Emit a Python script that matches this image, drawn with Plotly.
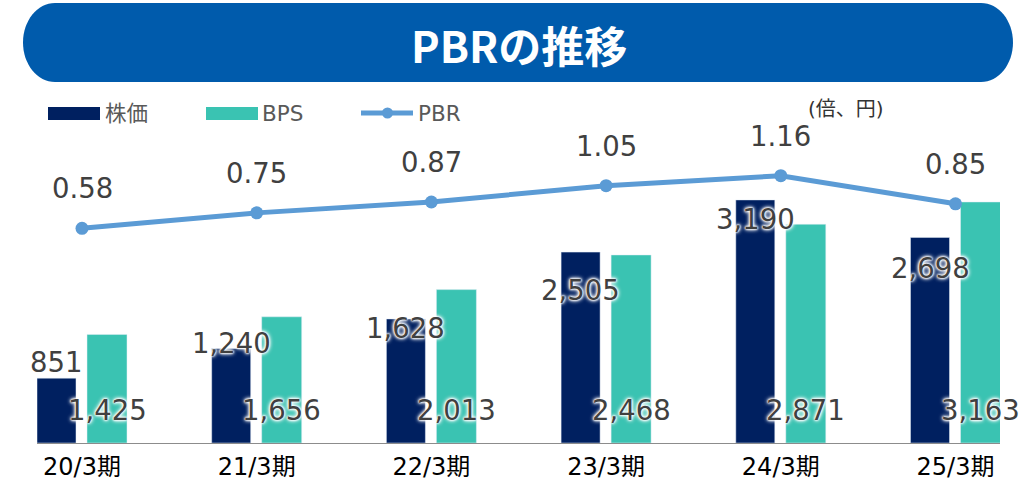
import plotly.graph_objects as go

# ---------------- data ----------------
categories = ["20/3期", "21/3期", "22/3期", "23/3期", "24/3期", "25/3期"]
stock_price = [851, 1240, 1628, 2505, 3190, 2698]
bps = [1425, 1656, 2013, 2468, 2871, 3163]
pbr = [0.58, 0.75, 0.87, 1.05, 1.16, 0.85]
# vertical nudges (px) of the 株価 labels relative to the bar top (as placed in the original)
stock_label_shift = [16, 6, -9, -38, -19, -31]

# ---------------- style ----------------
W, H = 1025, 490
NAVY = "#002060"
TEAL = "#3AC3B2"
LINE = "#5B9BD5"
TXT = "#404040"
BANNER = "#005BAC"
NUM_FONT = "DejaVu Sans, Noto Sans CJK JP"
JP_FONT = "Noto Sans CJK JP"
HALO = "0 0 2px #fff, 0 0 2px #fff, 0 0 3px #fff, 0 0 4px #fff, 0 0 5px #fff"


def px(x):
    return x / W


def py(y):
    return 1 - y / H


# plot geometry (pixels in the 1025x490 window)
X0, STEP = 82.0, 174.7          # first group centre, group spacing
PLOT_L, PLOT_R = 37, 1000
PLOT_T, PLOT_B = 95, 443
BAR_PX = 0.0762                  # px per yen
PBR_ZERO, PBR_PX = 280.9, 90.7   # pixel of PBR=0, px per unit

xidx = list(range(len(categories)))
navy_off, navy_w = -45 / STEP, 39 / STEP
teal_off, teal_w = 5 / STEP, 40 / STEP

fig = go.Figure()
fig.add_trace(go.Bar(x=xidx, y=stock_price, name="株価", marker_color=NAVY,
                     offset=navy_off, width=navy_w, showlegend=False))
fig.add_trace(go.Bar(x=xidx, y=bps, name="BPS", marker_color=TEAL,
                     offset=teal_off, width=teal_w, showlegend=False))
fig.add_trace(go.Scatter(x=xidx, y=pbr, name="PBR", yaxis="y2", mode="lines+markers",
                         line=dict(color=LINE, width=5), marker=dict(color=LINE, size=13),
                         showlegend=False, cliponaxis=False))

ann = []
for i, (v, s) in enumerate(zip(stock_price, stock_label_shift)):
    ann.append(dict(x=i + navy_off + navy_w / 2, y=v, xref="x", yref="y", text=f"{v:,}",
                    showarrow=False, yshift=s, yanchor="middle",
                    font=dict(family=NUM_FONT, size=27.5, color=TXT, shadow=HALO)))
for i, v in enumerate(bps):
    ann.append(dict(x=i + teal_off + teal_w / 2, y=0, xref="x", yref="y", text=f"{v:,}",
                    showarrow=False, yshift=33, yanchor="middle",
                    font=dict(family=NUM_FONT, size=27.5, color=TXT, shadow=HALO)))
for i, v in enumerate(pbr):
    ann.append(dict(x=i, y=v, xref="x", yref="y2", text=f"{v:.2f}",
                    showarrow=False, yshift=40, yanchor="middle",
                    font=dict(family=NUM_FONT, size=27.5, color=TXT)))

# title banner text
ann.append(dict(x=px(519), y=py(44), xref="paper", yref="paper", text="<b>PBRの推移</b>",
                showarrow=False, xanchor="center", yanchor="middle",
                font=dict(family=JP_FONT, size=43, color="white")))
# unit
ann.append(dict(x=px(806), y=py(109), xref="paper", yref="paper", text="(倍、円)",
                showarrow=False, xanchor="left", yanchor="middle",
                font=dict(family=NUM_FONT, size=20, color="#333333")))
# legend texts
for lx, t in [(103, "株価"), (260, "BPS"), (416, "PBR")]:
    ann.append(dict(x=px(lx), y=py(113), xref="paper", yref="paper", text=t,
                    showarrow=False, xanchor="left", yanchor="middle",
                    font=dict(family=NUM_FONT, size=21.5, color="#595959")))

# banner shape (rounded ends)
L, R, T, B = 23, 1013, 3, 82
rx, ry = 32, (B - T) / 2
k = 0.5523


def P(x, y):
    return f"{px(x):.5f},{py(y):.5f}"


path = (f"M {P(L + rx, T)} L {P(R - rx, T)} "
        f"C {P(R - rx + k * rx, T)} {P(R, T + ry - k * ry)} {P(R, T + ry)} "
        f"C {P(R, B - ry + k * ry)} {P(R - rx + k * rx, B)} {P(R - rx, B)} "
        f"L {P(L + rx, B)} "
        f"C {P(L + rx - k * rx, B)} {P(L, B - ry + k * ry)} {P(L, B - ry)} "
        f"C {P(L, T + ry - k * ry)} {P(L + rx - k * rx, T)} {P(L + rx, T)} Z")

shapes = [
    dict(type="path", path=path, xref="paper", yref="paper", fillcolor=BANNER,
         line=dict(width=0), layer="below"),
    # legend glyphs
    dict(type="rect", xref="paper", yref="paper", x0=px(48), x1=px(100), y0=py(120), y1=py(107),
         fillcolor=NAVY, line=dict(width=0)),
    dict(type="rect", xref="paper", yref="paper", x0=px(206), x1=px(258), y0=py(120), y1=py(107),
         fillcolor=TEAL, line=dict(width=0)),
    dict(type="line", xref="paper", yref="paper", x0=px(361), x1=px(413), y0=py(113), y1=py(113),
         line=dict(color=LINE, width=5)),
    dict(type="circle", xref="paper", yref="paper", x0=px(382), x1=px(393), y0=py(118.5), y1=py(107.5),
         fillcolor=LINE, line=dict(width=0)),
]

fig.update_layout(
    width=W, height=H,
    margin=dict(l=0, r=0, t=0, b=0),
    paper_bgcolor="white", plot_bgcolor="white",
    barmode="overlay",
    hovermode=False,
    xaxis=dict(domain=[px(PLOT_L), px(PLOT_R)],
               range=[(PLOT_L - X0) / STEP, (PLOT_R - X0) / STEP],
               tickmode="array", tickvals=xidx, ticktext=categories,
               showgrid=False, zeroline=False, showline=True, linecolor="#8C8C8C", linewidth=1,
               ticks="", ticklabelstandoff=2,
               tickfont=dict(family=NUM_FONT, size=24, color="#000000")),
    yaxis=dict(domain=[py(PLOT_B), py(PLOT_T)], range=[0, (PLOT_B - PLOT_T) / BAR_PX],
               visible=False, showgrid=False, zeroline=False),
    yaxis2=dict(overlaying="y", range=[-(PLOT_B - PBR_ZERO) / PBR_PX, (PBR_ZERO - PLOT_T) / PBR_PX],
                visible=False, showgrid=False, zeroline=False),
    annotations=ann,
    shapes=shapes,
    showlegend=False,
)

fig.write_html("out.html", config={"displayModeBar": False, "staticPlot": True},
               post_script="document.body.style.margin='0';")
